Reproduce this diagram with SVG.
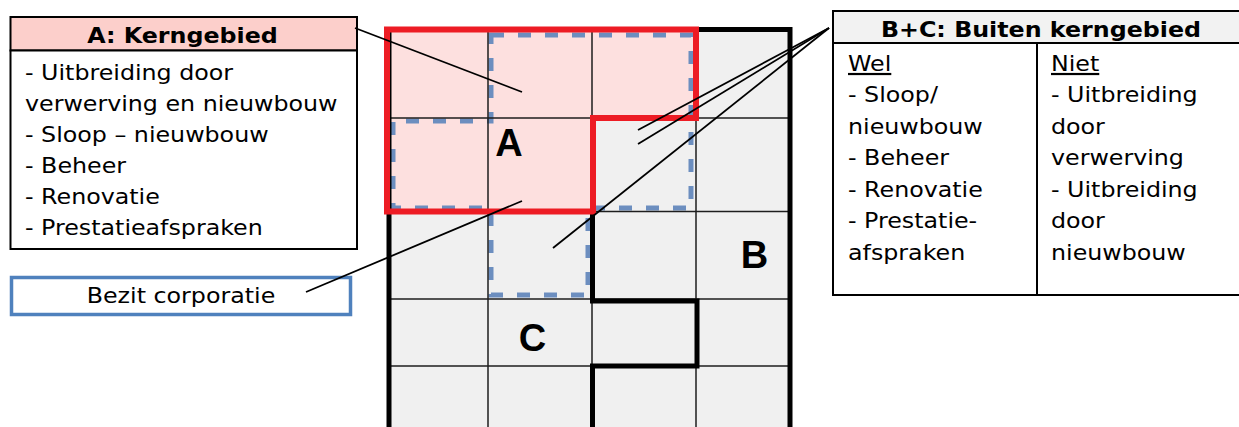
<svg xmlns="http://www.w3.org/2000/svg" width="1239" height="427" viewBox="0 0 1239 427">
<style>
.t{font-family:"DejaVu Sans",Verdana,sans-serif;font-size:22px;fill:#000}
.tb{font-family:"DejaVu Sans",Verdana,sans-serif;font-size:22px;font-weight:bold;fill:#000}
.u{text-decoration:underline}
.lbl{font-family:"Liberation Sans",Arial,sans-serif;font-size:38px;font-weight:bold;fill:#000;text-anchor:middle}
.grid{stroke:#1e1e1e;stroke-width:1.5;fill:none}
.thick{stroke:#000;stroke-width:5;fill:none}
.conn{stroke:#000;stroke-width:1.8;fill:none}
</style>
<rect width="1239" height="427" fill="#fff"/>
<g id="grid">
  <rect x="388" y="29.5" width="402" height="400" fill="#f0f0f0"/>
  <path d="M387,29.5 H696 V118 H593 V211.5 H387 Z" fill="#fde0df"/>
  <path d="M491,35 H691 V208 H588 V295 H491 V208 H393 V121 H491 Z" fill="none" stroke="#6c8ebf" stroke-width="5" stroke-dasharray="13 14"/>
  <g class="grid">
    <path d="M488,29.5 V427 M592,29.5 V427 M696,29.5 V427"/>
    <path d="M388,118 H790 M388,211.5 H790 M388,299 H790 M388,366 H790"/>
  </g>
  <path class="thick" d="M389,29.5 V427 M696,29.5 H790 V427"/>
  <path class="thick" d="M592.5,211.5 V301 H697 V366 H592.5 V427"/>
  <path d="M387,29.5 H696 V118 H593 V211.5 H387 Z" fill="none" stroke="#ed1c24" stroke-width="6"/>
  <text class="lbl" x="509" y="156">A</text>
  <text class="lbl" x="754.5" y="268">B</text>
  <text class="lbl" x="532.5" y="351">C</text>
</g>
<g id="node-a">
  <rect x="10.5" y="17" width="346.5" height="33.5" fill="#fccfcb" stroke="#000" stroke-width="2"/>
  <rect x="10.5" y="50.5" width="346.5" height="198.5" fill="#fff" stroke="#000" stroke-width="2"/>
  <g transform="translate(182.5 0) scale(1.08 1)"><text class="tb" x="0" y="43" text-anchor="middle">A: Kerngebied</text></g>
  <g transform="translate(25 0) scale(1.08 1)">
    <text class="t" x="0" y="80.5">- Uitbreiding door</text>
    <text class="t" x="0" y="111.5">verwerving en nieuwbouw</text>
    <text class="t" x="0" y="142.5">- Sloop – nieuwbouw</text>
    <text class="t" x="0" y="173.5">- Beheer</text>
    <text class="t" x="0" y="204.5">- Renovatie</text>
    <text class="t" x="0" y="235.5">- Prestatieafspraken</text>
  </g>
</g>
<g id="node-bezit">
  <rect x="11.5" y="277.5" width="339" height="37" fill="#fff" stroke="#4f81bd" stroke-width="3.5"/>
  <g transform="translate(181 0) scale(1.08 1)"><text class="t" x="0" y="303" text-anchor="middle">Bezit corporatie</text></g>
</g>
<g id="node-bc">
  <rect x="833" y="11" width="410" height="32" fill="#f2f2f2" stroke="#000" stroke-width="2"/>
  <rect x="833" y="43" width="410" height="252" fill="#fff" stroke="#000" stroke-width="2"/>
  <path d="M1037,43 V295" stroke="#000" stroke-width="2"/>
  <g transform="translate(1041 0) scale(1.08 1)"><text class="tb" x="0" y="37" text-anchor="middle">B+C: Buiten kerngebied</text></g>
  <g transform="translate(848 0) scale(1.08 1)">
    <text class="t u" x="0" y="71">Wel</text>
    <text class="t" x="0" y="102.5">- Sloop/</text>
    <text class="t" x="0" y="134">nieuwbouw</text>
    <text class="t" x="0" y="165.5">- Beheer</text>
    <text class="t" x="0" y="197">- Renovatie</text>
    <text class="t" x="0" y="228.5">- Prestatie-</text>
    <text class="t" x="0" y="260">afspraken</text>
  </g>
  <g transform="translate(1051 0) scale(1.08 1)">
    <text class="t u" x="0" y="71">Niet</text>
    <text class="t" x="0" y="102.5">- Uitbreiding</text>
    <text class="t" x="0" y="134">door</text>
    <text class="t" x="0" y="165.5">verwerving</text>
    <text class="t" x="0" y="197">- Uitbreiding</text>
    <text class="t" x="0" y="228.5">door</text>
    <text class="t" x="0" y="260">nieuwbouw</text>
  </g>
</g>
<g id="connectors" class="conn">
  <path d="M355,28 L522,92"/>
  <path d="M306,292 L522,201"/>
  <path d="M829,28 L638,130"/>
  <path d="M829,28 L638,144"/>
  <path d="M829,28 L553,248"/>
</g>
</svg>
